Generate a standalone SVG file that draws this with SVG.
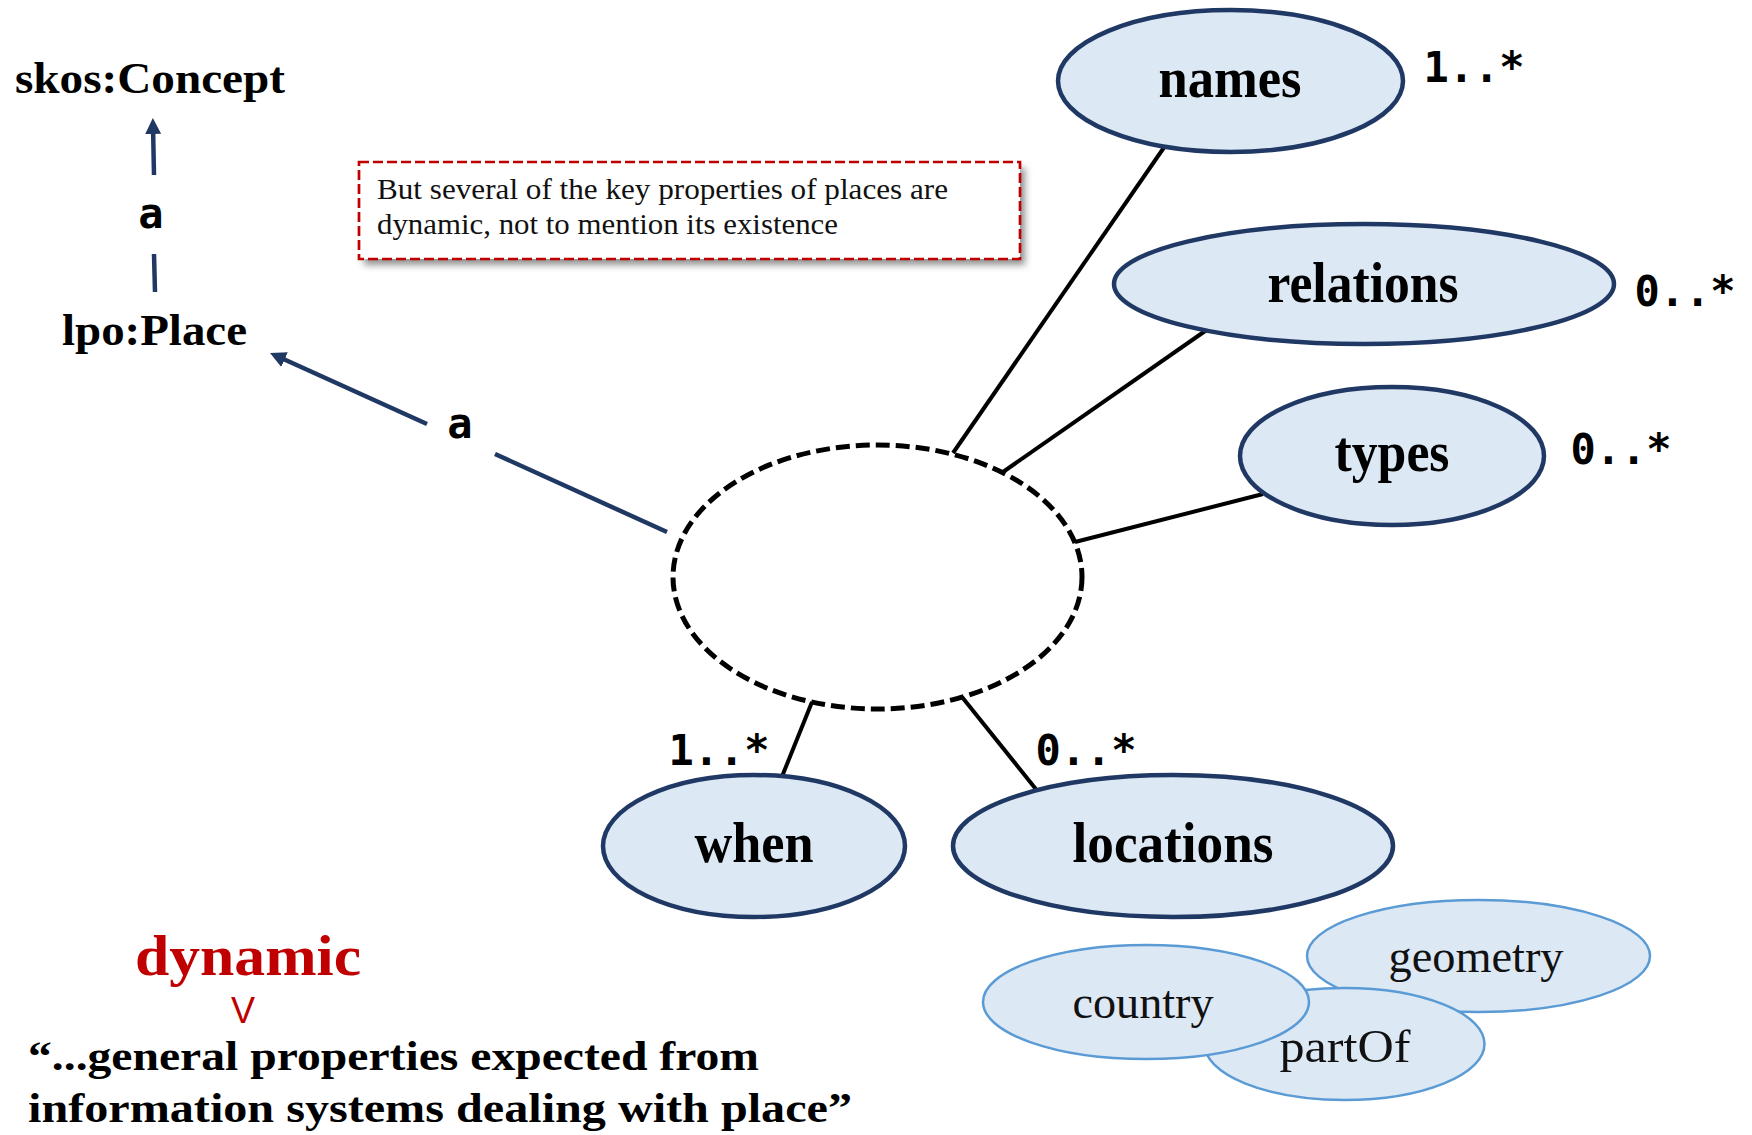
<svg xmlns="http://www.w3.org/2000/svg" width="1752" height="1135" viewBox="0 0 1752 1135">
  <defs>
    <style>
      .bg { fill: #ffffff; }
      .prop { fill: #dde8f5; stroke: #203864; stroke-width: 4.5; }
      .sub { fill: #dde8f5; stroke: #5b9bd5; stroke-width: 2.5; }
      .blank { fill: none; stroke: #000000; stroke-width: 5; stroke-dasharray: 14 6; }
      .edge { stroke: #000000; stroke-width: 4; fill: none; }
      .typeof { stroke: #203864; stroke-width: 4.5; fill: none; stroke-linecap: butt; }
      .lbl { font-family: "Liberation Serif", "Times New Roman", serif; font-weight: bold; font-size: 56px; fill: #000000; text-anchor: middle; }
      .sublbl { font-family: "Liberation Serif", "Times New Roman", serif; font-size: 46px; fill: #111111; text-anchor: middle; }
      .cls { font-family: "Liberation Serif", "Times New Roman", serif; font-weight: bold; font-size: 45px; fill: #000000; }
      .mono { font-family: "DejaVu Sans Mono", "Liberation Mono", monospace; font-weight: bold; font-size: 42px; fill: #000000; text-anchor: middle; }
      .note { font-family: "Liberation Serif", "Times New Roman", serif; font-size: 29px; fill: #111111; }
      .quote { font-family: "Liberation Serif", "Times New Roman", serif; font-weight: bold; font-size: 43px; fill: #000000; }
      .red { font-family: "Liberation Serif", "Times New Roman", serif; font-weight: bold; font-size: 56px; fill: #c00000; }
      .vee { font-family: "Liberation Sans", Arial, sans-serif; font-size: 36px; fill: #c00000; text-anchor: middle; }
    </style>
    <marker id="head" markerUnits="userSpaceOnUse" markerWidth="16" markerHeight="16" refX="8" refY="8" orient="auto">
      <path d="M0,0 L16,8 L0,16 z" fill="#203864"/>
    </marker>
    <filter id="shadow" x="-5%" y="-10%" width="115%" height="135%">
      <feDropShadow dx="5" dy="6" stdDeviation="3.5" flood-color="#7f7f7f" flood-opacity="0.85"/>
    </filter>
  </defs>

  <rect class="bg" x="0" y="0" width="1752" height="1135"/>

  <!-- connectors -->
  <g id="connectors">
    <line class="edge" x1="953" y1="453" x2="1165" y2="146"/>
    <line class="edge" x1="1003" y1="472" x2="1208" y2="329"/>
    <line class="edge" x1="1075" y1="542" x2="1263" y2="494"/>
    <line class="edge" x1="812" y1="702" x2="781" y2="779"/>
    <line class="edge" x1="962" y1="697" x2="1039" y2="793"/>
    <!-- rdf:type arrows, broken where the "a" labels sit -->
    <line class="typeof" x1="154" y1="175" x2="153" y2="126" marker-end="url(#head)"/>
    <line class="typeof" x1="154" y1="254" x2="155" y2="292"/>
    <line class="typeof" x1="427" y1="424" x2="277.3" y2="356.3" marker-end="url(#head)"/>
    <line class="typeof" x1="495" y1="454" x2="667" y2="532"/>
    <text class="mono" x="151" y="228">a</text>
    <text class="mono" x="460" y="438">a</text>
  </g>

  <!-- class labels -->
  <g id="skos-concept">
    <text class="cls" x="15" y="93" textLength="270" lengthAdjust="spacingAndGlyphs">skos:Concept</text>
  </g>
  <g id="lpo-place">
    <text class="cls" x="62" y="345" textLength="185" lengthAdjust="spacingAndGlyphs">lpo:Place</text>
  </g>

  <!-- callout -->
  <g id="note">
    <rect x="359" y="162" width="661" height="97" fill="#ffffff" filter="url(#shadow)"/>
    <rect x="359" y="162" width="661" height="97" fill="none" stroke="#c00000" stroke-width="2.7" stroke-dasharray="10 4"/>
    <text class="note" x="377" y="199" textLength="571" lengthAdjust="spacingAndGlyphs">But several of the key properties of places are</text>
    <text class="note" x="377" y="234" textLength="461" lengthAdjust="spacingAndGlyphs">dynamic, not to mention its existence</text>
  </g>

  <!-- place resource -->
  <g id="place">
    <ellipse class="blank" cx="877.5" cy="577" rx="204.5" ry="132"/>
  </g>

  <g id="names">
    <ellipse class="prop" cx="1230.5" cy="81" rx="172.5" ry="71"/>
    <text class="lbl" x="1230" y="97" textLength="143" lengthAdjust="spacingAndGlyphs">names</text>
    <text class="mono" x="1474" y="82">1..*</text>
  </g>

  <g id="relations">
    <ellipse class="prop" cx="1364" cy="284" rx="250" ry="60"/>
    <text class="lbl" x="1363" y="302" textLength="191" lengthAdjust="spacingAndGlyphs">relations</text>
    <text class="mono" x="1685" y="306">0..*</text>
  </g>

  <g id="types">
    <ellipse class="prop" cx="1392" cy="456" rx="152" ry="69"/>
    <text class="lbl" x="1392" y="471" textLength="115" lengthAdjust="spacingAndGlyphs">types</text>
    <text class="mono" x="1621" y="464">0..*</text>
  </g>

  <g id="when">
    <ellipse class="prop" cx="754" cy="846" rx="151" ry="71"/>
    <text class="lbl" x="754" y="862" textLength="119" lengthAdjust="spacingAndGlyphs">when</text>
    <text class="mono" x="719" y="765">1..*</text>
  </g>

  <g id="locations">
    <ellipse class="prop" cx="1173" cy="846" rx="220" ry="71"/>
    <text class="lbl" x="1173" y="862" textLength="201" lengthAdjust="spacingAndGlyphs">locations</text>
    <text class="mono" x="1086" y="765">0..*</text>
  </g>

  <g id="geometry">
    <ellipse class="sub" cx="1478.5" cy="956" rx="171.5" ry="56"/>
    <text class="sublbl" x="1476" y="972" textLength="175" lengthAdjust="spacingAndGlyphs">geometry</text>
  </g>
  <g id="partOf">
    <ellipse class="sub" cx="1344.5" cy="1044" rx="140" ry="56"/>
    <text class="sublbl" x="1345" y="1062" textLength="131" lengthAdjust="spacingAndGlyphs">partOf</text>
  </g>
  <g id="country">
    <ellipse class="sub" cx="1146" cy="1002" rx="163" ry="57"/>
    <text class="sublbl" x="1143" y="1018" textLength="141" lengthAdjust="spacingAndGlyphs">country</text>
  </g>

  <!-- quotation -->
  <g id="quote">
    <text class="red" x="135" y="975" textLength="226" lengthAdjust="spacingAndGlyphs">dynamic</text>
    <text class="vee" x="243" y="1023">V</text>
    <text class="quote" x="28" y="1070" textLength="731" lengthAdjust="spacingAndGlyphs">“...general properties expected from</text>
    <text class="quote" x="28" y="1122" textLength="824" lengthAdjust="spacingAndGlyphs">information systems dealing with place”</text>
  </g>
</svg>
